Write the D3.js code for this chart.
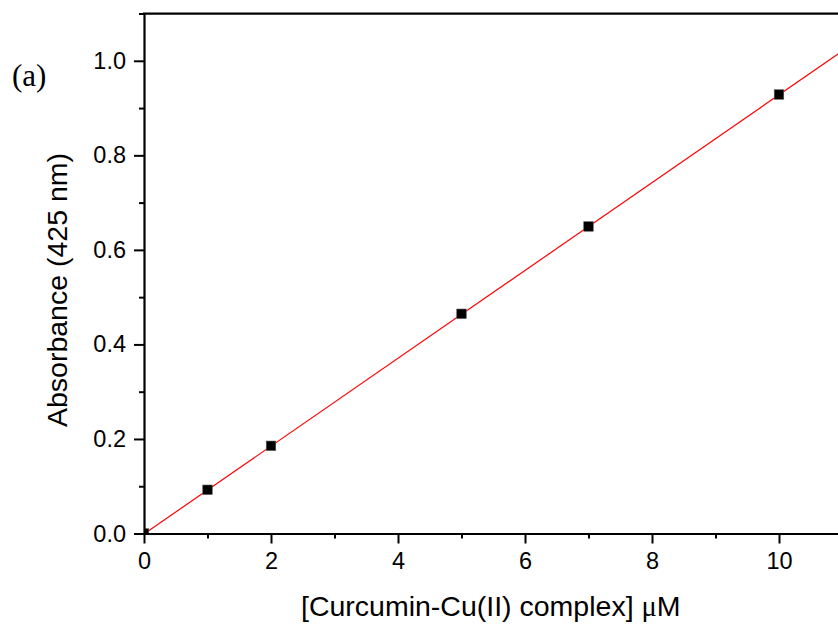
<!DOCTYPE html>
<html>
<head>
<meta charset="utf-8">
<script src="https://cdn.jsdelivr.net/npm/d3@7"></script>
<style>
  html, body { margin: 0; padding: 0; background: #fff; }
  svg { display: block; }
</style>
</head>
<body>
<script>
// ---- data ----
const concentration = [0, 1, 2, 5, 7, 10];
const absorbance = [0.0, 0.0925, 0.1855, 0.4648, 0.6495, 0.9287];
const fitX = [0, 11];
const fitY = [-0.001, 1.021];
const xMajorTicks = [0, 2, 4, 6, 8, 10];
const xMinorTicks = [1, 3, 5, 7, 9, 11];
const yMajorTicks = [0.0, 0.2, 0.4, 0.6, 0.8, 1.0];
const yMinorTicks = [0.1, 0.3, 0.5, 0.7, 0.9, 1.1];
const xTitle = "[Curcumin-Cu(II) complex] ";
const xUnit = ["\u03bc", "M"];
const yTitle = "Absorbance (425 nm)";
const panelLabel = "(a)";

const SANS = "'Liberation Sans', Arial, sans-serif";
const SERIF = "'Liberation Serif', 'Times New Roman', serif";

const W = 838, H = 624;
const x0 = 144, y0 = 533.5, xUnitPx = 63.5, yUnitPx = 472.7;

const svg = d3.select("body").append("svg").attr("width", W).attr("height", H);

const x = d3.scaleLinear().domain([0, 11]).range([x0, x0 + 11 * xUnitPx]);
const y = d3.scaleLinear().domain([0, 1.1]).range([y0, y0 - 1.1 * yUnitPx]);

svg.append("defs").append("clipPath").attr("id", "plotclip")
  .append("rect").attr("x", x(0)).attr("y", y(1.1))
  .attr("width", x(11) - x(0)).attr("height", y(0) - y(1.1));

const plot = svg.append("g").attr("clip-path", "url(#plotclip)");

// fit line
plot.append("path")
  .datum(fitX.map((d, i) => [d, fitY[i]]))
  .attr("d", d3.line().x(d => x(d[0])).y(d => y(d[1])))
  .attr("fill", "none").attr("stroke", "#ff0000").attr("stroke-width", 1.2);

// points
const sz = 9.5;
plot.selectAll("rect.pt").data(concentration.map((c, i) => [c, absorbance[i]]))
  .enter().append("rect").attr("class", "pt")
  .attr("x", d => x(d[0]) - sz / 2).attr("y", d => y(d[1]) - sz / 2)
  .attr("width", sz).attr("height", sz)
  .attr("fill", "#000").attr("stroke", "#555").attr("stroke-width", 0.6);

// axes
const tickFont = 23.5;
svg.append("g").attr("transform", `translate(0,${y0})`)
  .call(d3.axisBottom(x).tickValues(xMajorTicks).tickFormat(d3.format("d"))
    .tickSize(10).tickPadding(9).tickSizeOuter(0));
svg.append("g").attr("transform", `translate(0,${y0})`)
  .call(d3.axisBottom(x).tickValues(xMinorTicks).tickFormat("").tickSize(5).tickSizeOuter(0))
  .select(".domain").remove();

svg.append("g").attr("transform", `translate(${x0},0)`)
  .call(d3.axisLeft(y).tickValues(yMajorTicks).tickFormat(d3.format(".1f"))
    .tickSize(10).tickPadding(8).tickSizeOuter(0));
svg.append("g").attr("transform", `translate(${x0},0)`)
  .call(d3.axisLeft(y).tickValues(yMinorTicks).tickFormat("").tickSize(5).tickSizeOuter(0))
  .select(".domain").remove();

svg.selectAll(".tick line").attr("stroke", "#000").attr("stroke-width", 2);
svg.selectAll(".domain").attr("stroke", "#000").attr("stroke-width", 2.2);
svg.selectAll(".tick text").style("font-size", tickFont + "px")
  .style("font-family", SANS).attr("fill", "#000");

// top border
svg.append("line").attr("x1", x(0) - 1).attr("x2", x(11)).attr("y1", y(1.1)).attr("y2", y(1.1))
  .attr("stroke", "#000").attr("stroke-width", 2.2);

// titles
const xt = svg.append("text").attr("x", 301).attr("y", 616)
  .style("font-family", SANS).style("font-size", "28.5px").attr("fill", "#000");
xt.append("tspan").text(xTitle);
xt.append("tspan").style("font-family", SERIF).text(xUnit[0]);
xt.append("tspan").text(xUnit[1]);

svg.append("text").attr("transform", "translate(67,290) rotate(-90)")
  .attr("text-anchor", "middle").style("font-family", SANS).style("font-size", "28.5px")
  .attr("fill", "#000").text(yTitle);

svg.append("text").attr("x", 12).attr("y", 86)
  .style("font-family", SERIF).style("font-size", "31px")
  .attr("fill", "#000").text(panelLabel);
</script>
</body>
</html>
